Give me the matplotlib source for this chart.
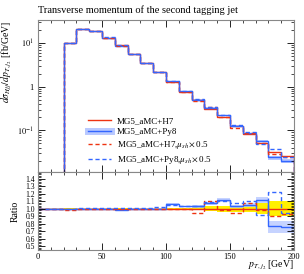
import numpy as np
import matplotlib
matplotlib.use("Agg")
import matplotlib.pyplot as plt
from matplotlib.ticker import MultipleLocator, FixedLocator, NullFormatter, LogLocator
from matplotlib.lines import Line2D

plt.rcParams['font.family'] = ['Liberation Serif', 'DejaVu Serif']
plt.rcParams['mathtext.fontset'] = 'stix'

# bin edges (GeV)
edges_main = np.arange(20, 201, 10)
edges_ratio = np.arange(0, 201, 10)

# MG5_aMC+H7 differential cross section [fb/GeV], bins 20..200
h7 = [10.0, 21.0, 18.6, 13.3, 8.9, 5.7, 3.47, 2.15, 1.28, 0.77,
      0.49, 0.31, 0.20, 0.123, 0.082, 0.052, 0.031, 0.026]

# ratios to H7, bins 0..200
r_py8 = [1.0, 1.0, 0.99, 1.0, 1.0, 1.0, 0.98, 1.0, 1.0, 1.0,
         1.065, 1.03, 1.03, 1.07, 1.12, 1.03, 1.045, 1.12, 0.77, 0.75]
r_h7_mu = [1.0, 1.0, 0.985, 0.995, 1.0, 1.0, 0.99, 0.995, 1.0, 1.0,
           1.0, 1.0, 0.94, 1.10, 0.985, 0.94, 1.07, 0.985, 0.90, 0.93]
r_py8_mu = [1.0, 1.0, 1.0, 1.015, 1.015, 1.015, 1.01, 1.015, 1.015, 1.02,
            1.05, 1.04, 1.04, 1.09, 1.11, 1.07, 1.11, 0.92, 1.22, 0.94]

# H7 reference band half width, Py8 band lo/hi (ratio units)
h7_err = [0.005, 0.005, 0.005, 0.005, 0.005, 0.005, 0.005, 0.006, 0.007, 0.008,
          0.01, 0.015, 0.02, 0.03, 0.04, 0.04, 0.05, 0.07, 0.10, 0.10]
py8_lo = [0.995, 0.995, 0.985, 0.995, 0.995, 0.995, 0.965, 0.993, 0.993, 0.992,
          1.055, 1.02, 1.015, 1.05, 1.09, 1.01, 1.02, 1.07, 0.67, 0.67]
py8_hi = [1.005, 1.005, 0.995, 1.005, 1.005, 1.005, 0.99, 1.007, 1.007, 1.008,
          1.075, 1.04, 1.045, 1.09, 1.14, 1.05, 1.07, 1.16, 0.84, 0.84]

red = '#EE3311'
blue = '#3366FF'
lightblue = '#B8C8FF'
yellow = '#FFF000'

fig = plt.figure(figsize=(3.04, 2.74), dpi=100)
ax = fig.add_axes([0.125, 0.372, 0.842, 0.555])
axr = fig.add_axes([0.125, 0.088, 0.842, 0.284])

h7 = np.array(h7)
r_py8 = np.array(r_py8)
r_h7_mu = np.array(r_h7_mu)
r_py8_mu = np.array(r_py8_mu)

# main panel
base = 1e-3
ax.stairs(h7 * np.array(py8_hi[2:]), edges_main, baseline=h7 * np.array(py8_lo[2:]),
          fill=True, color=lightblue, lw=0)
ax.stairs(h7, edges_main, baseline=base, color=red, lw=1.0)
ax.stairs(h7 * r_py8[2:], edges_main, baseline=base, color=blue, lw=1.0)
ax.stairs(h7 * r_h7_mu[2:], edges_main, baseline=base, color=red, lw=1.0, ls=(0, (3, 2)))
ax.stairs(h7 * r_py8_mu[2:], edges_main, baseline=base, color=blue, lw=1.0, ls=(0, (3, 2)))

ax.set_yscale('log')
ax.set_xlim(0, 200)
ax.set_ylim(0.011, 34)
ax.set_yticks([0.1, 1, 10])
ax.set_yticklabels([r'$10^{-1}$', '1', r'$10^{1}$'])
ax.yaxis.set_minor_locator(LogLocator(subs=np.arange(2, 10)))
ax.yaxis.set_minor_formatter(NullFormatter())
ax.xaxis.set_major_locator(MultipleLocator(50))
ax.xaxis.set_minor_locator(MultipleLocator(10))
ax.set_xticklabels([])
ax.set_ylabel(r'$d\sigma_{Hjj}/dp_{T,j_2}$ [fb/GeV]', loc='top', fontsize=7, labelpad=2)
ax.set_title('Transverse momentum of the second tagging jet', loc='left', fontsize=7.5, pad=5)

# legend
handles = [
    Line2D([], [], color=red, lw=1.0),
    (Line2D([], [], color=lightblue, lw=5), Line2D([], [], color=blue, lw=1.0)),
    Line2D([], [], color=red, lw=1.0, ls=(0, (3, 2))),
    Line2D([], [], color=blue, lw=1.0, ls=(0, (3, 2))),
]
labels = ['MG5_aMC+H7', 'MG5_aMC+Py8',
          r'MG5_aMC+H7,$\mu_{sh}\times$0.5', r'MG5_aMC+Py8,$\mu_{sh}\times$0.5']
ax.legend(handles, labels, loc='lower left', bbox_to_anchor=(0.17, 0.0),
          frameon=False, fontsize=6.5, handlelength=2.6, handletextpad=0.6,
          labelspacing=0.3, borderaxespad=0.3)

# ratio panel
axr.stairs(1 + np.array(h7_err), edges_ratio, baseline=1 - np.array(h7_err),
           fill=True, color=yellow, lw=0)
axr.stairs(py8_hi, edges_ratio, baseline=py8_lo, fill=True, color=lightblue, lw=0, alpha=0.8)
axr.stairs(np.ones(20), edges_ratio, baseline=None, color=red, lw=1.0)
axr.stairs(r_py8, edges_ratio, baseline=None, color=blue, lw=1.0)
axr.stairs(r_h7_mu, edges_ratio, baseline=None, color=red, lw=1.0, ls=(0, (3, 2)))
axr.stairs(r_py8_mu, edges_ratio, baseline=None, color=blue, lw=1.0, ls=(0, (3, 2)))

axr.set_xlim(0, 200)
axr.set_ylim(0.45, 1.49)
axr.yaxis.set_major_locator(FixedLocator(np.round(np.arange(0.5, 1.41, 0.1), 1)))
axr.yaxis.set_minor_locator(MultipleLocator(0.02))
axr.set_yticklabels(['%.1f' % v for v in np.arange(0.5, 1.41, 0.1)])
axr.xaxis.set_major_locator(MultipleLocator(50))
axr.xaxis.set_minor_locator(MultipleLocator(10))
axr.set_ylabel('Ratio', fontsize=7, labelpad=4)
axr.set_xlabel(r'$p_{T,j_2}$ [GeV]', loc='right', fontsize=7, labelpad=-1)

for a in (ax, axr):
    a.tick_params(which='both', direction='in', top=True, right=True, labelsize=6, pad=3)
    a.tick_params(which='major', length=5, width=0.6)
    a.tick_params(which='minor', length=2.5, width=0.5)
    for s in a.spines.values():
        s.set_color('#888888')
        s.set_linewidth(0.8)
axr.tick_params(axis='y', labelsize=5.5, pad=2)
axr.tick_params(axis='x', pad=2)

fig.savefig('out.png', dpi=100)
